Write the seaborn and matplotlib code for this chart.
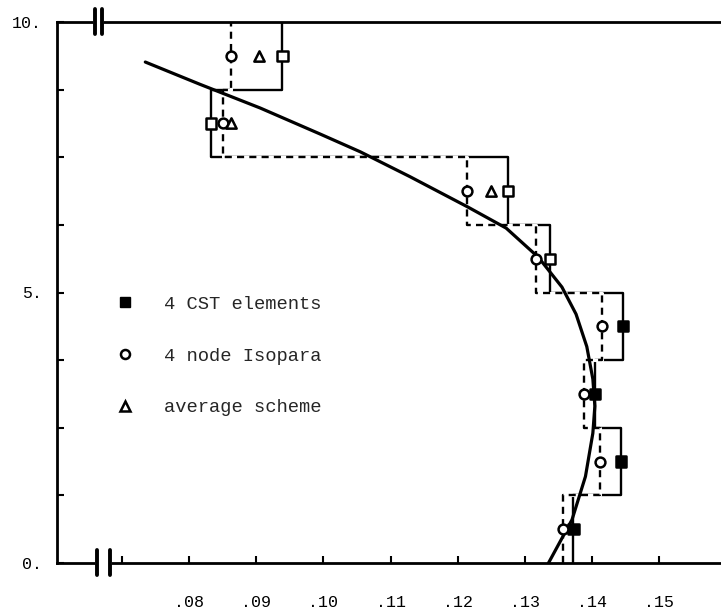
import numpy as np
import pandas as pd
import seaborn as sns
import matplotlib
matplotlib.use("Agg")
import matplotlib.pyplot as plt
import matplotlib.transforms as mtransforms
from matplotlib.lines import Line2D

# layer boundaries (height) and values read in each layer, bottom to top
layer_edges = [0.0, 1.25, 2.5, 3.75, 5.0, 6.25, 7.5, 8.75, 10.0]
cst_x = [0.1372, 0.1443, 0.1404, 0.1446, 0.1337, 0.1275, 0.0833, 0.0939]
iso_x = [0.1356, 0.1412, 0.1388, 0.1414, 0.1317, 0.1214, 0.0850, 0.0862]
avg_layer = [5, 6, 7]
avg_x = [0.1250, 0.0862, 0.0904]

# exact solution curve
curve_x = [0.0735, 0.0816, 0.0906, 0.0995, 0.1055, 0.1129, 0.1215, 0.1272,
           0.1320, 0.1355, 0.1376, 0.1392, 0.1401, 0.1404, 0.1401, 0.1390,
           0.1370, 0.1335]
curve_y = [9.26, 8.85, 8.41, 7.93, 7.60, 7.14, 6.58, 6.19,
           5.65, 5.10, 4.60, 4.00, 3.40, 2.90, 2.40, 1.60,
           0.80, 0.0]

x_ticks = [0.07, 0.08, 0.09, 0.10, 0.11, 0.12, 0.13, 0.14, 0.15]
x_ticklabels = ["", ".08", ".09", ".10", ".11", ".12", ".13", ".14", ".15"]
y_ticks = [0, 5, 10]
y_ticklabels = ["0.", "5.", "10."]
legend_labels = ["4 CST elements", "4 node Isopara", "average scheme"]

sns.set_style("ticks")
plt.rcParams["font.family"] = ["Liberation Mono", "DejaVu Sans Mono"]

edges = np.array(layer_edges)
mids = (edges[:-1] + edges[1:]) / 2


def step_path(vals):
    xs = np.repeat(vals, 2)
    ys = np.column_stack([edges[:-1], edges[1:]]).ravel()
    return pd.DataFrame({"x": xs, "y": ys})


fig = plt.figure(figsize=(7.21, 6.12), dpi=100)
ax = fig.add_axes([57 / 721, 49 / 612, 664 / 721, 541 / 612])

cst = step_path(cst_x)
iso = step_path(iso_x)
sns.lineplot(data=cst, x="x", y="y", sort=False, estimator=None,
             color="black", lw=1.7, zorder=2, ax=ax)
# white underlay so the dashed steps stay dashed where they overlap
sns.lineplot(data=iso, x="x", y="y", sort=False, estimator=None,
             color="white", lw=2.2, zorder=2.1, ax=ax)
sns.lineplot(data=iso, x="x", y="y", sort=False, estimator=None,
             color="black", lw=1.7, linestyle=(0, (3.0, 2.2)), zorder=2.2,
             ax=ax)

curve = pd.DataFrame({"x": curve_x, "y": curve_y})
sns.lineplot(data=curve, x="x", y="y", sort=False, estimator=None,
             color="black", lw=2.3, zorder=3, ax=ax)

sq_face = ["black" if i < 4 else "white" for i in range(len(cst_x))]
sns.scatterplot(x=cst_x, y=mids, marker="s", s=55, facecolor=sq_face,
                edgecolor="black", linewidth=1.8, zorder=5, ax=ax)
sns.scatterplot(x=iso_x, y=mids, marker="o", s=50, facecolor="white",
                edgecolor="black", linewidth=1.8, zorder=5, ax=ax)
sns.scatterplot(x=avg_x, y=mids[avg_layer], marker="^", s=55,
                facecolor="white", edgecolor="black", linewidth=1.8,
                zorder=5, ax=ax)

ax.set_xlim(0.06036, 0.15917)
ax.set_ylim(0, 10)
ax.set_xticks(x_ticks)
ax.set_xticklabels(x_ticklabels)
ax.set_yticks(y_ticks)
ax.set_yticklabels(y_ticklabels)
ax.set_yticks([1.25, 2.5, 3.75, 6.25, 7.5, 8.75], minor=True)
ax.set_xlabel("")
ax.set_ylabel("")
ax.tick_params(axis="both", which="both", direction="in", length=5,
               width=1.5, labelsize=12, colors="black")
ax.tick_params(axis="x", pad=23)
ax.tick_params(axis="y", pad=11)
for side in ["left", "bottom", "top"]:
    ax.spines[side].set_linewidth(2)
    ax.spines[side].set_color("black")
ax.spines["right"].set_visible(False)

# axis break marks
trans = mtransforms.blended_transform_factory(ax.transData, ax.transAxes)
for x0, x1, yb in [(0.06631, 0.06824, 0.0), (0.06601, 0.06705, 1.0)]:
    ax.plot([x0, x1], [yb, yb], color="white", lw=3, transform=trans,
            clip_on=False, zorder=6)
    for xb in (x0, x1):
        ax.plot([xb, xb], [yb - 0.023, yb + 0.024], color="black", lw=2.8,
                transform=trans, clip_on=False, zorder=7)

handles = [
    Line2D([], [], ls="", marker="s", markersize=7, color="black"),
    Line2D([], [], ls="", marker="o", markersize=6.5, markerfacecolor="white",
           markeredgecolor="black", markeredgewidth=1.8),
    Line2D([], [], ls="", marker="^", markersize=7, markerfacecolor="white",
           markeredgecolor="black", markeredgewidth=1.8),
]
ax.legend(handles, legend_labels, loc="upper left",
          bbox_to_anchor=(0.088, 0.494), frameon=False, handlelength=1,
          handletextpad=1.6, labelspacing=1.85, borderpad=0,
          borderaxespad=0, fontsize=13.5)

fig.savefig("out.png", dpi=100)
